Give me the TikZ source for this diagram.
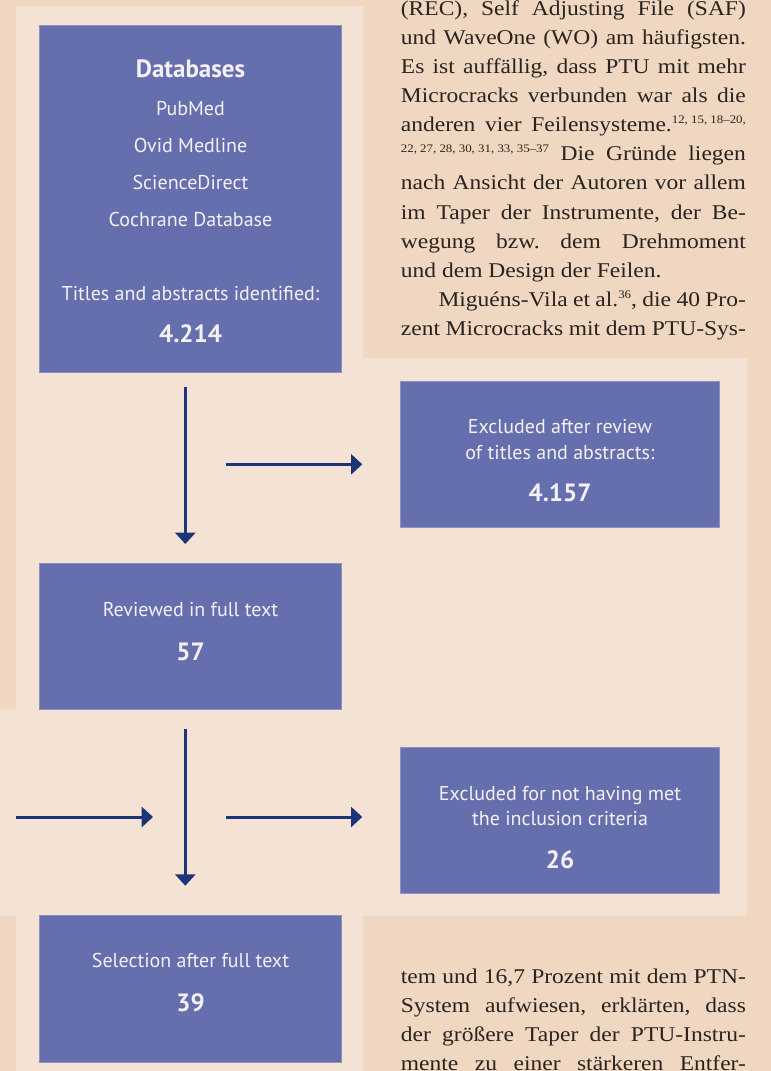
\documentclass[tikz,border=0pt]{standalone}
\usepackage{fontspec}
\setmainfont[FakeStretch=1.12]{Liberation Serif}
\newfontfamily\boxfont{PT Sans}
\usetikzlibrary{arrows.meta}
\frenchspacing

\definecolor{pagebg}{HTML}{EFD7C1}
\definecolor{panelbg}{HTML}{F4E3D4}
\definecolor{boxfill}{HTML}{666FAD}
\definecolor{boxline}{HTML}{8C92C6}
\definecolor{boxtext}{HTML}{F4F0F5}
\definecolor{arrowblue}{HTML}{1E3478}
\definecolor{bodytext}{HTML}{2A2320}

\newcommand{\bodyfont}{\fontsize{21}{29}\selectfont}
\newcommand{\just}[2][345pt]{\makebox[#1][s]{#2}}
\newcommand{\refsup}[1]{\raisebox{8pt}{\fontsize{11.5}{12}\selectfont #1}}

\begin{document}
\begin{tikzpicture}[x=1pt,y=-1pt,
  flowbox/.style={draw=boxline,fill=boxfill,line width=0.6pt,inner sep=0pt,minimum width=302.4pt,minimum height=146.4pt},
  widebox/.style={flowbox,minimum width=318.6pt},
  boxtxt/.style={anchor=base,inner sep=0pt,text=boxtext,font=\boxfont\fontsize{20}{21}\selectfont},
  boxnum/.style={anchor=base,inner sep=0pt,text=boxtext,font=\boxfont\bfseries\fontsize{25}{26}\selectfont},
  jline/.style={anchor=base west,inner sep=0pt,text=bodytext,font=\bodyfont},
  flowarrow/.style={draw=arrowblue,line width=3pt,-{Triangle[length=11.3pt,width=20pt]}}]
\useasboundingbox (0,0) rectangle (771,1071);
\fill[pagebg] (0,0) rectangle (771,1071);
\fill[panelbg] (16,6) -- (363,6) -- (363,358) -- (747,358) -- (747,915.7) -- (363,915.7) -- (363,1071) -- (16,1071) -- (16,915.7) -- (0,915.7) -- (0,709.5) -- (16,709.5) -- cycle;

\node[flowbox,minimum height=347pt] (db) at (190.5,198.5) {};
\node[boxnum] (dbtitle) at (190.5,77.7) {Databases};
\foreach \dbname [count=\i] in {PubMed,Ovid Medline,ScienceDirect,Cochrane Database}
  \node[boxtxt] (dbname\i) at (190.5,77.7+37.3*\i) {\dbname};
\node[boxtxt] (dbfound) at (190.5,300) {Titles and abstracts identified:};
\node[boxnum] (dbnum) at (190.5,342.7) {4.214};

\node[widebox] (exa) at (560,454.5) {};
\node[boxtxt] (exatxt1) at (560,433.3) {Excluded after review};
\node[boxtxt] (exatxt2) at (560,459.3) {of titles and abstracts:};
\node[boxnum] (exanum) at (560,501.7) {4.157};

\node[flowbox] (rev) at (190.5,636.5) {};
\node[boxtxt] (revtxt) at (190.5,616) {Reviewed in full text};
\node[boxnum] (revnum) at (190.5,660) {57};

\node[widebox] (exb) at (560,820) {};
\node[boxtxt] (exbtxt1) at (560,800) {Excluded for not having met};
\node[boxtxt] (exbtxt2) at (560,825) {the inclusion criteria};
\node[boxnum] (exbnum) at (560,868.3) {26};

\node[flowbox] (sel) at (190.5,988.7) {};
\node[boxtxt] (seltxt) at (190.5,967.7) {Selection after full text};
\node[boxnum] (selnum) at (190.5,1011.7) {39};

\coordinate (arra) at (185.3,387);
\coordinate (arrb) at (185.3,544);
\coordinate (arrc) at (226,464.3);
\coordinate (arrd) at (362.3,464.3);
\coordinate (arre) at (185.3,729);
\coordinate (arrf) at (185.3,885.7);
\coordinate (arrg) at (16,817);
\coordinate (arrh) at (153,817);
\coordinate (arri) at (226,817);
\coordinate (arrj) at (362.3,817);
\draw[flowarrow] (arra) -- (arrb);
\draw[flowarrow] (arrc) -- (arrd);
\draw[flowarrow] (arre) -- (arrf);
\draw[flowarrow] (arrg) -- (arrh);
\draw[flowarrow] (arri) -- (arrj);

\node[jline] (ta) at (400.7,15) {\just{(REC), Self Adjusting File (SAF)}};
\node[jline] (tb) at (400.7,44.15) {\just{und WaveOne (WO) am häufigsten.}};
\node[jline] (tc) at (400.7,73.3) {\just{Es ist auffällig, dass PTU mit mehr}};
\node[jline] (td) at (400.7,102.45) {\just{Microcracks verbunden war als die}};
\node[jline] (te) at (400.7,131.6) {\just{anderen vier Feilensysteme.\refsup{12, 15, 18–20,}}};
\node[jline] (tf) at (400.7,160.75) {\just{\refsup{22, 27, 28, 30, 31, 33, 35–37} Die Gründe liegen}};
\node[jline] (tg) at (400.7,189.9) {\just{nach Ansicht der Autoren vor allem}};
\node[jline] (th) at (400.7,219.05) {\just{im Taper der Instrumente, der Be-}};
\node[jline] (ti) at (400.7,248.2) {\just{wegung bzw. dem Drehmoment}};
\node[jline] (tj) at (400.7,277.35) {und dem Design der Feilen.};
\node[jline] (tk) at (438.3,306.5) {\just[307.4pt]{Miguéns-Vila et al.\refsup{36}, die 40 Pro-}};
\node[jline] (tl) at (400.7,335.65) {\just{zent Microcracks mit dem PTU-Sys-}};

\node[jline] (ba) at (400.7,983) {\just{tem und 16,7 Prozent mit dem PTN-}};
\node[jline] (bb) at (400.7,1012.3) {\just{System aufwiesen, erklärten, dass}};
\node[jline] (bc) at (400.7,1041.6) {\just{der größere Taper der PTU-Instru-}};
\node[jline] (bd) at (400.7,1070.9) {\just{mente zu einer stärkeren Entfer-}};
\end{tikzpicture}
\end{document}
